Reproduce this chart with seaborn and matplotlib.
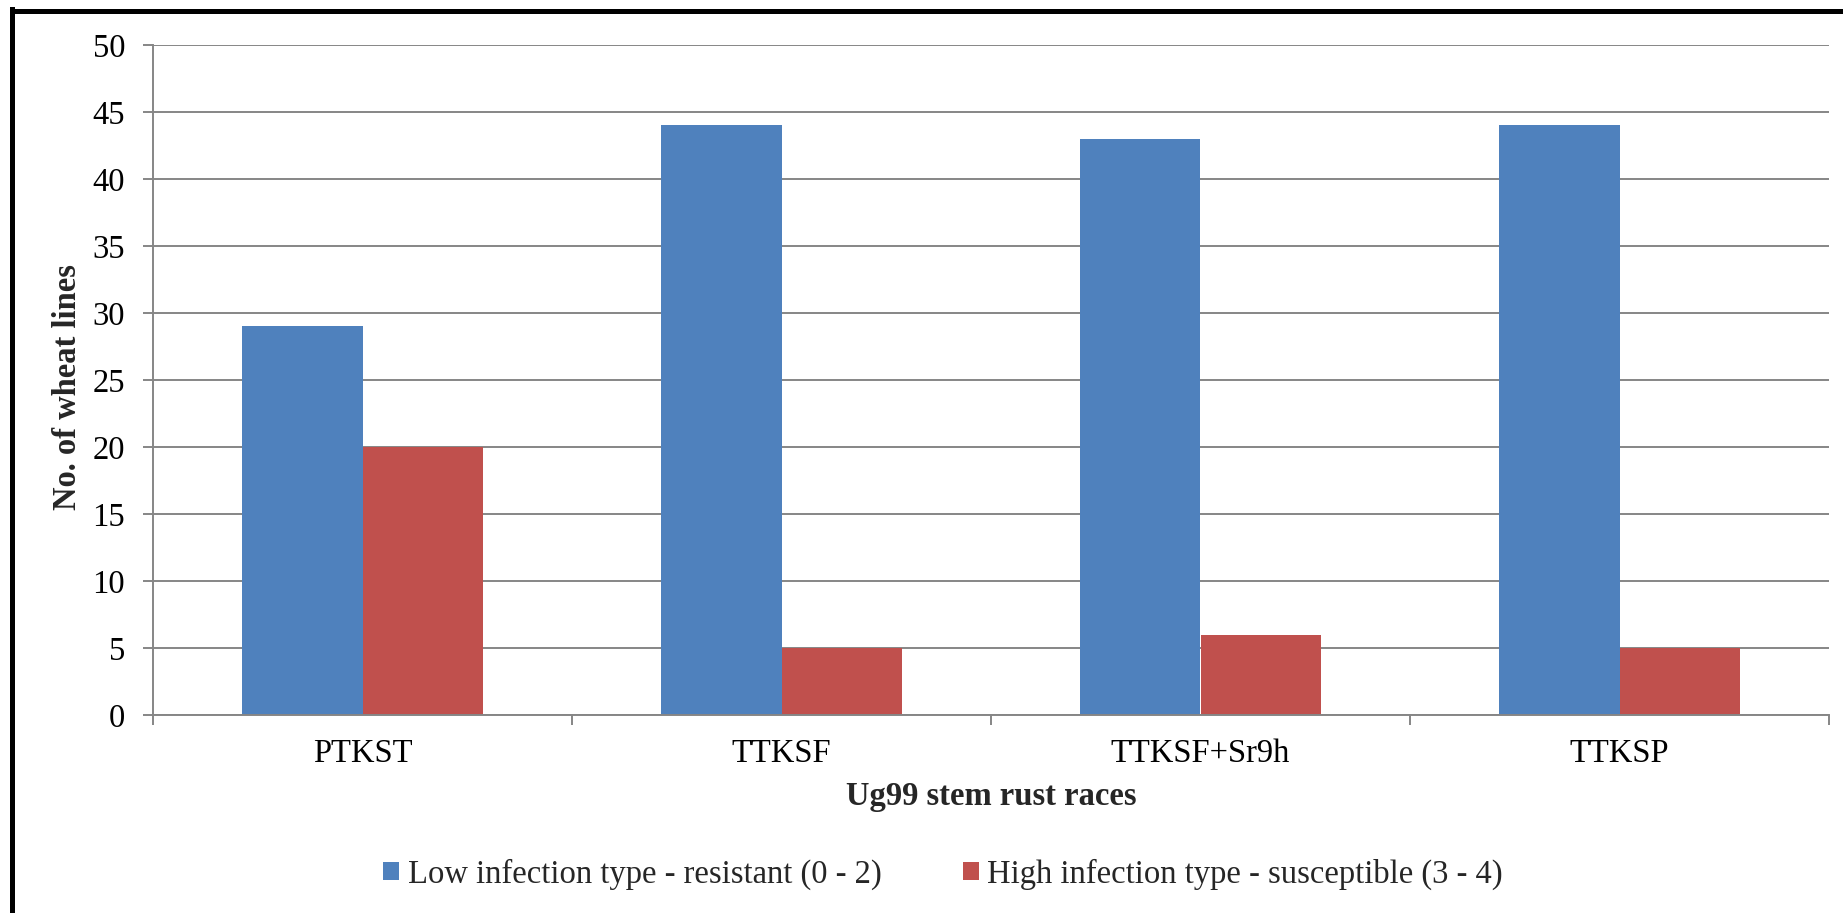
import matplotlib
matplotlib.use("Agg")
import matplotlib.pyplot as plt
from matplotlib.lines import Line2D
from matplotlib.ticker import FixedLocator
import seaborn as sns
import pandas as pd

races = ["PTKST", "TTKSF", "TTKSF+Sr9h", "TTKSP"]
low_values = [29, 44, 43, 44]
high_values = [20, 5, 6, 5]
series_names = ["Low infection type - resistant (0 - 2)",
                "High infection type - susceptible (3 - 4)"]
y_ticks = [0, 5, 10, 15, 20, 25, 30, 35, 40, 45, 50]
colors = ["#4F81BD", "#C0504D"]

df = pd.DataFrame({
    "race": races * 2,
    "value": low_values + high_values,
    "type": [series_names[0]] * len(races) + [series_names[1]] * len(races),
})

sns.set_theme(style="white")
plt.rcParams["font.family"] = ["Liberation Serif", "DejaVu Serif"]

FS = 23.5
W, H = 1843, 913
fig = plt.figure(figsize=(W / 100, H / 100), dpi=100)
left, right, top, bottom = 153, 1829, 45, 715
ax = fig.add_axes([left / W, 1 - bottom / H, (right - left) / W, (bottom - top) / H])

sns.barplot(data=df, x="race", y="value", hue="type", hue_order=series_names,
            order=races, palette=colors, width=0.573, gap=0, dodge=True,
            saturation=1, errorbar=None, linewidth=0, ax=ax)

gray = "#868686"
ax.set_ylim(0, 50)
ax.set_xlim(-0.5, len(races) - 0.5)
ax.set_yticks(y_ticks)
ax.yaxis.grid(True, color=gray, linewidth=1.4)
ax.set_axisbelow(True)
for s in ["top", "right"]:
    ax.spines[s].set_visible(False)
for s in ["left", "bottom"]:
    ax.spines[s].set_color(gray)
    ax.spines[s].set_linewidth(1.4)

ax.tick_params(axis="y", which="major", direction="out", length=7, width=1.4,
               color=gray, labelsize=FS, pad=13, left=True, labelcolor="black")
ax.tick_params(axis="x", which="major", length=0, labelsize=FS, pad=17,
               labelcolor="black")
ax.xaxis.set_minor_locator(FixedLocator([i - 0.5 for i in range(len(races) + 1)]))
ax.tick_params(axis="x", which="minor", direction="out", length=7, width=1.4,
               color=gray, bottom=True)

ax.set_xlabel("Ug99 stem rust races", fontsize=FS, fontweight="bold", va="center")
ax.xaxis.set_label_coords(0.5, (bottom - 797) / (bottom - top))
ax.set_ylabel("No. of wheat lines", fontsize=FS, fontweight="bold", va="center")
ax.yaxis.set_label_coords((67 - left) / (right - left), 0.49)

handles, labels = ax.get_legend_handles_labels()
ax.legend(handles, labels, loc="center", bbox_to_anchor=(943 / W, 1 - 874 / H),
          bbox_transform=fig.transFigure, ncol=2, frameon=False, fontsize=FS,
          handlelength=0.5, handleheight=0.5, handletextpad=0.25,
          columnspacing=2.5)

# outer frame (left and top edges visible)
lw = 5 * 72 / 100
fig.add_artist(Line2D([12 / W, 12 / W], [0, 1 - 9 / H], color="black", lw=lw,
                      transform=fig.transFigure, solid_capstyle="projecting"))
fig.add_artist(Line2D([12 / W, 1], [1 - 11.5 / H, 1 - 11.5 / H], color="black", lw=lw,
                      transform=fig.transFigure, solid_capstyle="projecting"))

fig.savefig("out.png", dpi=100, facecolor="white")
